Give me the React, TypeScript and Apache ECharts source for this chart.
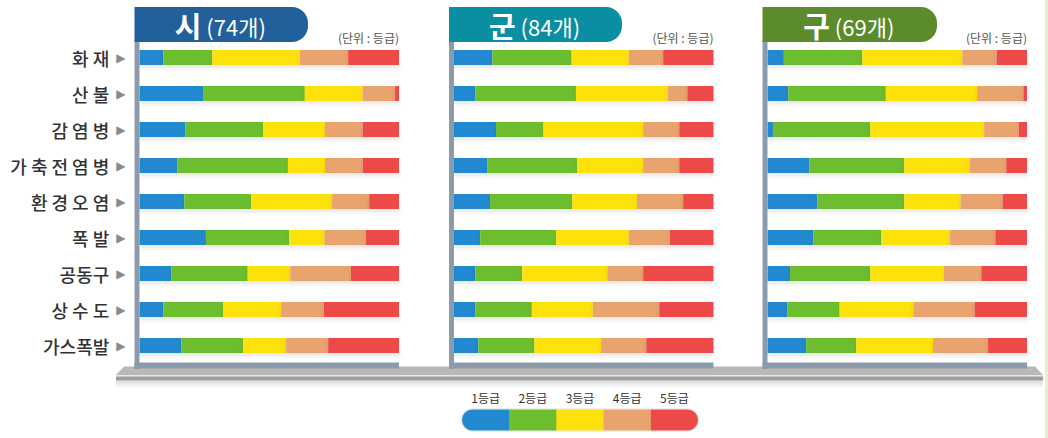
import React, { useEffect, useRef } from "react";
import * as echarts from "echarts";

const categories = ["화 재", "산 불", "감 염 병", "가 축 전 염 병", "환 경 오 염", "폭 발", "공동구", "상 수 도", "가스폭발"];
const grades = ["1등급", "2등급", "3등급", "4등급", "5등급"];
const gradeColors = ["#2189d0", "#6cbe2e", "#fde10c", "#e8a36e", "#ee4a4a"];

const panelTitles = ["시", "군", "구"];
const panelCounts = ["(74개)", "(84개)", "(69개)"];
const panelColors = ["#22609c", "#0a8ea2", "#5b8b2a"];

// rows = grade 1..5, columns = categories (percent of regions)
const siData: number[][] = [
  [9.2, 24.5, 17.7, 14.6, 17.3, 25.6, 12.3, 9.2, 16.2],
  [18.9, 39.2, 30.0, 42.6, 25.8, 32.1, 29.4, 23.1, 23.8],
  [33.7, 22.3, 23.8, 14.3, 31.1, 13.6, 16.4, 22.3, 16.5],
  [18.6, 12.5, 14.5, 14.5, 14.3, 15.9, 23.4, 16.4, 16.2],
  [19.6, 1.5, 14.0, 14.0, 11.5, 12.8, 18.5, 29.0, 27.3],
];
const gunData: number[][] = [
  [14.8, 8.2, 16.2, 12.8, 13.9, 10.1, 8.2, 8.2, 9.4],
  [30.5, 38.8, 18.3, 34.7, 31.7, 29.3, 18.1, 21.8, 21.6],
  [22.1, 35.5, 38.4, 25.4, 24.9, 28.0, 32.8, 23.5, 25.7],
  [13.2, 7.4, 13.9, 13.9, 17.8, 15.8, 13.8, 25.6, 17.4],
  [19.4, 10.1, 13.2, 13.2, 11.7, 16.8, 27.1, 20.9, 25.9],
];
const guData: number[][] = [
  [6.3, 8.0, 2.1, 16.1, 19.2, 17.7, 8.7, 7.6, 14.9],
  [30.2, 37.6, 37.5, 36.6, 33.5, 26.2, 30.9, 20.2, 19.3],
  [38.6, 35.2, 43.9, 25.2, 21.7, 26.5, 28.4, 28.4, 29.6],
  [13.2, 17.8, 13.4, 14.1, 16.2, 17.4, 14.4, 23.6, 21.2],
  [11.7, 1.4, 3.1, 8.0, 9.4, 12.2, 17.6, 20.2, 15.0],
];
const panelData = [siData, gunData, guData];

const FONT = '"Noto Sans CJK KR", "Noto Sans", sans-serif';

export default function App() {
  const ref = useRef<HTMLDivElement>(null);
  useEffect(() => {
    document.body.style.margin = "0";
    if (!ref.current) return;
    const chart = echarts.init(ref.current, null, { renderer: "svg" });

    const panelLeft = [134.5, 449, 762.5];
    const barLeft = [139.5, 454, 767.5];
    const barWidthPx = [259.5, 259.5, 259.5];
    const headerRight = [308, 622, 937];
    const gridTop = 39.5;
    const gridH = 324;

    const grids = barLeft.map((l, i) => ({ left: l, top: gridTop, width: barWidthPx[i], height: gridH }));
    const xAxes = barLeft.map((_, i) => ({
      type: "value", gridIndex: i, min: 0, max: 100, show: false,
    }));
    const yAxes = barLeft.map((_, i) => ({
      type: "category", gridIndex: i, data: categories, inverse: true,
      axisLine: { show: false }, axisTick: { show: false }, splitLine: { show: false },
      axisLabel: i === 0 ? {
        show: true, margin: 14,
        formatter: (v: string) => `{t|${v}}{m|▶}`,
        rich: {
          t: { fontSize: 18, color: "#333", fontFamily: FONT, fontWeight: 500 },
          m: { fontSize: 12, color: "#8a8a8a", fontFamily: "DejaVu Sans", padding: [0, 0, 0, 7] },
        },
      } : { show: false },
    }));

    const series: any[] = [];
    panelData.forEach((pd, p) => {
      pd.forEach((vals, g) => {
        series.push({
          type: "bar", name: grades[g], xAxisIndex: p, yAxisIndex: p, stack: "s" + p,
          data: vals, barWidth: 15,
          itemStyle: { color: gradeColors[g], shadowBlur: 4, shadowColor: "rgba(0,0,0,0.1)", shadowOffsetY: 3 },
          emphasis: { disabled: true },
        });
      });
    });

    const graphic: any[] = [];
    // platform
    graphic.push({ type: "rect", shape: { x: 116, y: 380.5, width: 927, height: 8 },
      style: { fill: new echarts.graphic.LinearGradient(0, 0, 0, 1, [{ offset: 0, color: "#dcdcdc" }, { offset: 1, color: "#ffffff" }]) }, z: 1 });
    graphic.push({ type: "polygon", shape: { points: [[124, 366.5], [1035, 366.5], [1043, 375], [116, 375]] },
      style: { fill: "#b8b8b8" }, z: 2 });
    graphic.push({ type: "rect", shape: { x: 116, y: 375, width: 927, height: 1.5 }, style: { fill: "#e8e8e8" }, z: 2 });
    graphic.push({ type: "rect", shape: { x: 116, y: 376.5, width: 927, height: 4 }, style: { fill: "#9e9e9e" }, z: 2 });

    panelLeft.forEach((pl, i) => {
      const right = barLeft[i] + barWidthPx[i];
      // frame
      graphic.push({ type: "rect", shape: { x: pl, y: 40, width: 5, height: 329 }, style: { fill: "#8b9bab" }, z: 3 });
      graphic.push({ type: "rect", shape: { x: pl, y: 362.5, width: right - pl, height: 6 }, style: { fill: "#8b9bab" }, z: 3 });
      // header
      graphic.push({ type: "rect", shape: { x: pl, y: 7, width: headerRight[i] - pl, height: 35, r: [0, 16, 16, 0] },
        style: { fill: panelColors[i] }, z: 4 });
      graphic.push({ type: "text", x: (pl + headerRight[i]) / 2 - 1, y: 25, z: 5,
        style: {
          text: `{a|${panelTitles[i]}}{b|${panelCounts[i]}}`, align: "center", verticalAlign: "middle",
          rich: {
            a: { fontSize: 29, fontWeight: "bold", fill: "#ffffff", fontFamily: FONT },
            b: { fontSize: 22, fill: "#ffffff", fontFamily: FONT, padding: [2, 0, 0, 5] },
          },
        } });
      graphic.push({ type: "text", x: right, y: 37, z: 5,
        style: { text: "(단위 : 등급)", align: "right", verticalAlign: "middle", fontSize: 12, fill: "#555", fontFamily: FONT } });
    });

    // right edge line
    graphic.push({ type: "rect", shape: { x: 1045, y: 0, width: 3, height: 438 }, style: { fill: "#e3f0d3" }, z: 1 });

    // legend
    const lx = 462, lw = 47.2, ly = 409.5, lh = 21;
    graphic.push({ type: "rect", shape: { x: lx - 1.5, y: ly - 1.5, width: lw * 5 + 3, height: lh + 3, r: 12 },
      style: { fill: "#eeeeee" }, z: 3 });
    grades.forEach((g, k) => {
      const r = k === 0 ? [10.5, 0, 0, 10.5] : k === 4 ? [0, 10.5, 10.5, 0] : 0;
      graphic.push({ type: "rect", shape: { x: lx + k * lw, y: ly, width: lw + (k < 4 ? 0.5 : 0), height: lh, r },
        style: { fill: gradeColors[k] }, z: 4 });
      graphic.push({ type: "text", x: lx + k * lw + lw / 2, y: 397, z: 4,
        style: { text: g, align: "center", verticalAlign: "middle", fontSize: 12, fill: "#333", fontFamily: FONT } });
    });

    chart.setOption({
      animation: false,
      backgroundColor: "#ffffff",
      grid: grids,
      xAxis: xAxes,
      yAxis: yAxes,
      series,
      graphic,
    } as any);
    return () => chart.dispose();
  }, []);
  return <div ref={ref} style={{ width: 1048, height: 438 }} />;
}
